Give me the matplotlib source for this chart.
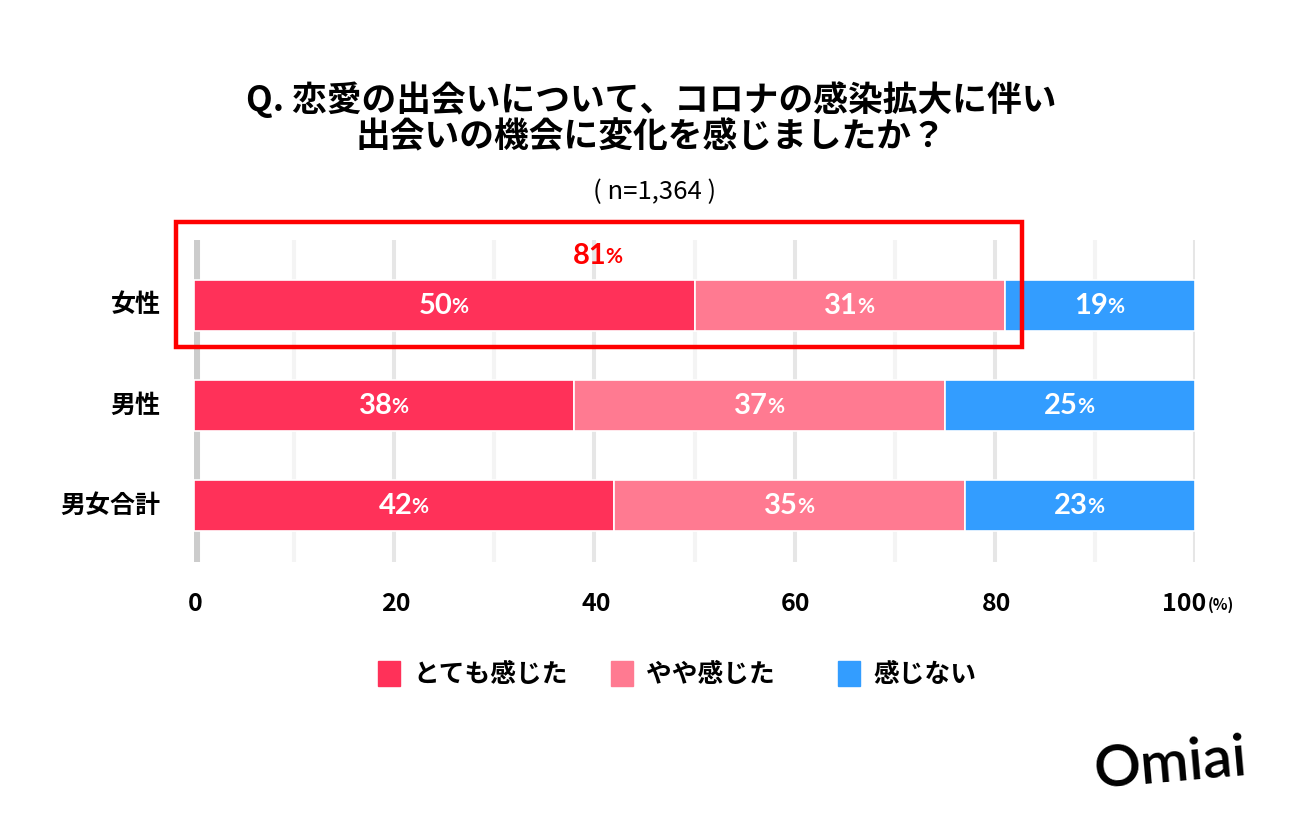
import matplotlib.pyplot as plt
from matplotlib.patches import Rectangle
import numpy as np

plt.rcParams['font.family'] = ['Noto Sans CJK JP', 'DejaVu Sans']

# data
groups = ["女性", "男性", "男女合計"]
answers = ["とても感じた", "やや感じた", "感じない"]
strong = [50, 38, 42]
some = [31, 37, 35]
none_ = [19, 25, 23]
highlight_total = 81
n_label = "( n=1,364 )"
xticks = [0, 20, 40, 60, 80, 100]

COLORS = ["#FF3159", "#FF7A91", "#339DFF"]
NUMFONT = ["Lato", "DejaVu Sans"]

W, H = 1300, 836
fig = plt.figure(figsize=(W / 100, H / 100), dpi=100)


def fx(px):
    return px / W


def fy(py):
    return 1 - py / H


ax = fig.add_axes([fx(194), fy(562), fx(1195) - fx(194), fy(240) - fy(562)])
ax.set_xlim(0, 100)
ax.set_ylim(2.565, -0.655)
ax.axis("off")

# grid lines
for g in range(10, 101, 10):
    col = "#e6e6e6" if g % 20 == 0 else "#f4f4f4"
    ax.axvline(g, color=col, linewidth=2.9, zorder=0)
ax.axvline(0.2, color="#cccccc", linewidth=5.8, zorder=0)


def pct_label(x, yv, color, dx=6):
    ax.annotate(f"{int(round(x[1]))}", (x[0], yv), xytext=(dx, 0), textcoords="offset points",
                ha="right", va="center", color=color, fontsize=21,
                fontweight="bold", family=NUMFONT, zorder=3, annotation_clip=False)
    ax.annotate("%", (x[0], yv), xytext=(dx - 0.8, -1), textcoords="offset points",
                ha="left", va="center", color=color, fontsize=15,
                fontweight="bold", family=NUMFONT, zorder=3, annotation_clip=False)


y = np.arange(len(groups))
series = [strong, some, none_]
left = np.zeros(len(groups))
for vals, col in zip(series, COLORS):
    vals = np.array(vals, dtype=float)
    ax.barh(y, vals, left=left, height=0.51, color=col,
            edgecolor="white", linewidth=1.2, zorder=2)
    for yi, l, v in zip(y, left, vals):
        pct_label((l + v / 2, v), yi, "white")
    left += vals

# highlight box
fig.patches.append(Rectangle((fx(176), fy(347)), fx(1022) - fx(176), fy(222) - fy(347),
                             transform=fig.transFigure, fill=False,
                             edgecolor="#FF0000", linewidth=3.2, zorder=5))
pct_label((highlight_total / 2, highlight_total), -0.5, "#FF0000", dx=5)

# y labels
for yi, g in zip(y, groups):
    ax.annotate(g, (0, yi), xytext=(-24, 0), textcoords="offset points",
                ha="right", va="center", fontsize=18, fontweight="bold",
                annotation_clip=False)

# x tick labels
for t in xticks:
    if t == 100:
        ax.annotate(str(t), (t, 2.565), xytext=(8, -30), textcoords="offset points",
                    ha="right", va="center", fontsize=18, fontweight="bold",
                    annotation_clip=False)
        ax.annotate("(%)", (t, 2.565), xytext=(9, -31), textcoords="offset points",
                    ha="left", va="center", fontsize=11, fontweight="bold",
                    annotation_clip=False)
    else:
        ax.annotate(str(t), (t, 2.565), xytext=(1, -30), textcoords="offset points",
                    ha="center", va="center", fontsize=18, fontweight="bold",
                    annotation_clip=False)

# titles
fig.text(fx(651), fy(100), "Q. 恋愛の出会いについて、コロナの感染拡大に伴い",
         ha="center", va="center", fontsize=25, fontweight="bold")
fig.text(fx(651), fy(137), "出会いの機会に変化を感じましたか？",
         ha="center", va="center", fontsize=25, fontweight="bold")
fig.text(fx(655), fy(192), n_label, ha="center", va="center", fontsize=18.5)

# legend
leg_x = [378, 611, 838]
for lx, lab, col in zip(leg_x, answers, COLORS):
    fig.patches.append(Rectangle((fx(lx), fy(686)), fx(22), 25 / H,
                                 transform=fig.transFigure, color=col))
    fig.text(fx(lx + 35), fy(674), lab, ha="left", va="center",
             fontsize=18.5, fontweight="bold")

# logo
fig.text(fx(1170), fy(765), "Omiai", ha="center", va="center", fontsize=42,
         fontweight="semibold", rotation=5, family=NUMFONT)

fig.savefig("out.png", dpi=100)
